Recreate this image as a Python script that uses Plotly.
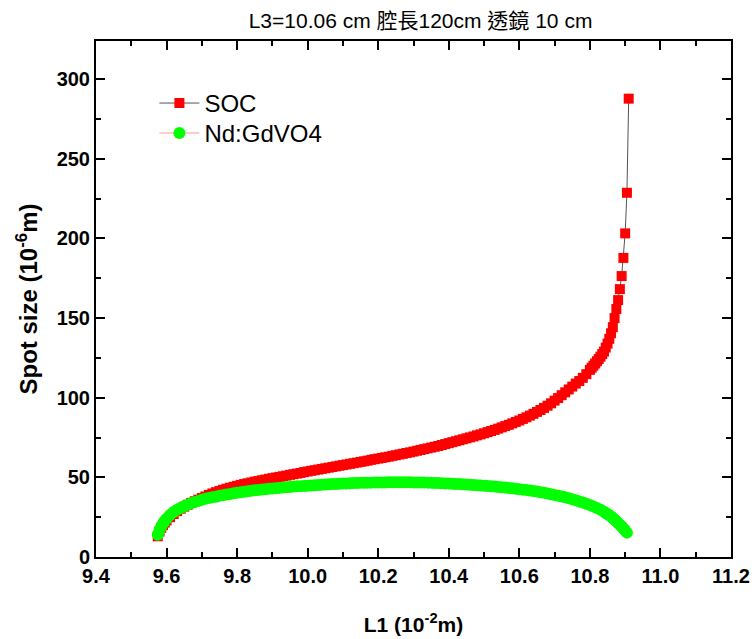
import plotly.graph_objects as go

# ---- data ----
soc_x = [9.575, 9.58, 9.585, 9.59, 9.595, 9.60, 9.61, 9.62, 9.63, 9.64, 9.65, 9.66, 9.67, 9.68, 9.69,
         9.70, 9.71, 9.72, 9.73, 9.74, 9.75, 9.76, 9.77, 9.78, 9.79, 9.80, 9.81, 9.82, 9.83, 9.84,
         9.85, 9.86, 9.87, 9.88, 9.89, 9.90, 9.91, 9.92, 9.93, 9.94, 9.95, 9.96, 9.97, 9.98, 9.99,
         10.00, 10.01, 10.02, 10.03, 10.04, 10.05, 10.06, 10.07, 10.08, 10.09, 10.10, 10.11, 10.12,
         10.13, 10.14, 10.15, 10.16, 10.17, 10.18, 10.19, 10.20, 10.21, 10.22, 10.23, 10.24, 10.25,
         10.26, 10.27, 10.28, 10.29, 10.30, 10.31, 10.32, 10.33, 10.34, 10.35, 10.36, 10.37, 10.38,
         10.39, 10.40, 10.41, 10.42, 10.43, 10.44, 10.45, 10.46, 10.47, 10.48, 10.49, 10.50, 10.51,
         10.52, 10.53, 10.54, 10.55, 10.56, 10.57, 10.58, 10.59, 10.60, 10.61, 10.62, 10.63, 10.64,
         10.65, 10.66, 10.67, 10.68, 10.69, 10.70, 10.71, 10.72, 10.73, 10.74, 10.75, 10.76, 10.77,
         10.78, 10.79, 10.80, 10.805, 10.81, 10.815, 10.82, 10.825, 10.83, 10.835, 10.84, 10.845,
         10.85, 10.855, 10.86, 10.865, 10.87, 10.875, 10.88, 10.885, 10.89, 10.895, 10.90, 10.905,
         10.91]
soc_y = [13, 16, 18.3, 20, 21.6, 23, 25, 27, 28.8, 30.3, 31.6, 32.8, 34, 35, 36,
         37, 38, 39, 39.9, 40.7, 41.5, 42.2, 42.9, 43.5, 44.1, 44.7, 45.3, 45.8, 46.3, 46.8,
         47.3, 47.7, 48.2, 48.6, 49.1, 49.5, 49.9, 50.3, 50.7, 51.1, 51.6, 52, 52.4, 52.8, 53.3,
         53.7, 54.1, 54.5, 54.9, 55.3, 55.7, 56.1, 56.5, 56.9, 57.3, 57.7, 58.1, 58.5,
         58.9, 59.3, 59.7, 60.1, 60.5, 61, 61.4, 61.8, 62.2, 62.6, 63, 63.5, 63.9,
         64.4, 64.8, 65.3, 65.7, 66.2, 66.7, 67.2, 67.7, 68.2, 68.7, 69.2, 69.7, 70.3,
         70.9, 71.5, 72.1, 72.7, 73.3, 73.9, 74.5, 75.1, 75.7, 76.4, 77, 77.7, 78.4,
         79.1, 79.8, 80.6, 81.4, 82.2, 83, 83.9, 84.8, 85.7, 86.7, 87.7, 88.8, 89.9,
         91.1, 92.3, 93.6, 95, 96.5, 98.2, 99.8, 101.6, 103.4, 105.2, 107, 108.9, 110.5,
         112.5, 114.8, 117.5, 118.8, 120.1, 121.5, 122.9, 124.3, 125.8, 127.4, 129, 131.5,
         134, 137, 140.5, 144.3, 150, 155.7, 161.3, 168.2, 176.4, 187.8, 203.2, 228.7,
         287.8]

gd_x = [9.575, 9.58, 9.585, 9.59, 9.595, 9.60, 9.61, 9.62, 9.63, 9.64, 9.65, 9.66, 9.67, 9.68, 9.69,
        9.70, 9.71, 9.72, 9.73, 9.74, 9.75, 9.76, 9.77, 9.78, 9.79, 9.80, 9.81, 9.82, 9.83, 9.84,
        9.85, 9.86, 9.87, 9.88, 9.89, 9.90, 9.91, 9.92, 9.93, 9.94, 9.95, 9.96, 9.97, 9.98, 9.99,
        10.00, 10.01, 10.02, 10.03, 10.04, 10.05, 10.06, 10.07, 10.08, 10.09, 10.10, 10.11, 10.12,
        10.13, 10.14, 10.15, 10.16, 10.17, 10.18, 10.19, 10.20, 10.21, 10.22, 10.23, 10.24, 10.25,
        10.26, 10.27, 10.28, 10.29, 10.30, 10.31, 10.32, 10.33, 10.34, 10.35, 10.36, 10.37, 10.38,
        10.39, 10.40, 10.41, 10.42, 10.43, 10.44, 10.45, 10.46, 10.47, 10.48, 10.49, 10.50, 10.51,
        10.52, 10.53, 10.54, 10.55, 10.56, 10.57, 10.58, 10.59, 10.60, 10.61, 10.62, 10.63, 10.64,
        10.65, 10.66, 10.67, 10.68, 10.69, 10.70, 10.71, 10.72, 10.73, 10.74, 10.75, 10.76, 10.77,
        10.78, 10.79, 10.80, 10.81, 10.82, 10.83, 10.84, 10.845, 10.85, 10.855, 10.86, 10.865,
        10.87, 10.875, 10.88, 10.885, 10.89, 10.895, 10.90, 10.905]
gd_y = [14, 17, 19.2, 21, 22.6, 24, 26.3, 28.2, 29.6, 30.8, 31.9, 32.8, 33.7, 34.5, 35.2,
        35.9, 36.5, 37, 37.5, 37.9, 38.4, 38.8, 39.2, 39.6, 40, 40.3, 40.7, 41, 41.3, 41.6,
        41.9, 42.1, 42.4, 42.6, 42.8, 43, 43.2, 43.4, 43.6, 43.8, 44, 44.2, 44.35, 44.5, 44.65,
        44.8, 44.95, 45.1, 45.25, 45.4, 45.55, 45.7, 45.8, 45.9, 46, 46.1, 46.2, 46.3,
        46.4, 46.5, 46.55, 46.6, 46.65, 46.7, 46.75, 46.8, 46.82, 46.85, 46.88, 46.9, 46.9,
        46.9, 46.9, 46.9, 46.88, 46.85, 46.82, 46.8, 46.75, 46.7, 46.6, 46.5, 46.4, 46.3,
        46.2, 46.1, 46, 45.9, 45.8, 45.7, 45.55, 45.4, 45.25, 45.1, 44.95, 44.8, 44.6,
        44.4, 44.2, 44, 43.8, 43.6, 43.35, 43.1, 42.85, 42.6, 42.3, 42, 41.7, 41.4,
        41.05, 40.7, 40.3, 39.9, 39.45, 39, 38.5, 38, 37.45, 36.9, 36.25, 35.6, 34.9,
        34.2, 33.4, 32.6, 31.7, 30.7, 29.6, 28.4, 27.7, 27, 26.2, 25.4, 24.5,
        23.5, 22.4, 21.3, 20.3, 19.2, 17.9, 16.6, 15.3]

x_ticks = [9.4, 9.6, 9.8, 10.0, 10.2, 10.4, 10.6, 10.8, 11.0, 11.2]
x_tick_text = ["9.4", "9.6", "9.8", "10.0", "10.2", "10.4", "10.6", "10.8", "11.0", "11.2"]
y_ticks = [0, 50, 100, 150, 200, 250, 300]

FONT = "Arial, Liberation Sans, Noto Sans CJK TC, sans-serif"

fig = go.Figure()
fig.add_trace(go.Scatter(
    x=soc_x, y=soc_y, name="SOC", mode="lines+markers", legend="legend",
    line=dict(color="#555555", width=1),
    marker=dict(symbol="square", size=10, color="#ff0000", line=dict(width=0)),
))
fig.add_trace(go.Scatter(
    x=gd_x, y=gd_y, name="Nd:GdVO4", mode="lines+markers", legend="legend2",
    line=dict(color="#ff9999", width=1),
    marker=dict(symbol="circle", size=12, color="#00ff00", line=dict(width=0)),
))

axis_common = dict(
    showline=True, linecolor="black", linewidth=2, mirror="allticks",
    ticks="inside", ticklen=9, tickwidth=2, tickcolor="black",
    showgrid=False, zeroline=False, automargin=False,
    tickfont=dict(family=FONT, size=20, color="black", weight="bold"),
)

fig.update_xaxes(
    range=[9.4, 11.2], tickvals=x_ticks, ticktext=x_tick_text,
    minor=dict(ticks="inside", ticklen=5, tickwidth=2, tickcolor="black", dtick=0.1, tick0=9.4),
    title=dict(text="L1 (10<sup>-2</sup>m)", font=dict(family=FONT, size=21, color="black", weight="bold"),
               standoff=31),
    **axis_common,
)
fig.update_yaxes(
    range=[0, 324], tickvals=y_ticks,
    minor=dict(ticks="inside", ticklen=5, tickwidth=2, tickcolor="black", dtick=25, tick0=0),
    title=dict(text="Spot size (10<sup>-6</sup>m)", font=dict(family=FONT, size=24, color="black", weight="bold"),
               standoff=12),
    **axis_common,
)

legend_common = dict(xanchor="left", yanchor="middle", bgcolor="rgba(0,0,0,0)",
                     font=dict(family=FONT, size=24, color="black"), itemwidth=40)

fig.update_layout(
    width=755, height=639,
    margin=dict(l=96, r=24, t=41, b=82),
    paper_bgcolor="white", plot_bgcolor="white",
    title=dict(text="L3=10.06 cm 腔長120cm 透鏡 10 cm", x=0.557, xanchor="center", y=0.968, yanchor="middle",
               font=dict(family=FONT, size=21, color="black")),
    showlegend=True,
    legend=dict(x=0.092, y=0.879, **legend_common),
    legend2=dict(x=0.092, y=0.821, **legend_common),
)

fig.write_html("out.html")
